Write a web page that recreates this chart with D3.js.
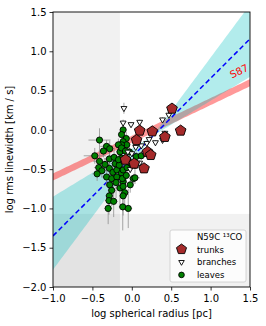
<!DOCTYPE html>
<html><head><meta charset="utf-8">
<script src="https://cdn.jsdelivr.net/npm/d3@7"></script>
<style>body{margin:0;background:#fff}svg{display:block;font-family:"DejaVu Sans",sans-serif}</style>
</head><body><svg id="c" width="266" height="326"></svg>
<script>
// ---- data ----
const xTicks = [-1.0, -0.5, 0.0, 0.5, 1.0, 1.5];
const yTicks = [-2.0, -1.5, -1.0, -0.5, 0.0, 0.5, 1.0, 1.5];
const resolutionLimitX = -0.15;   // log radius below which shaded
const sensitivityLimitY = -1.07;  // log linewidth below which shaded
// fit: log sigma = slope * log R + intercept
const fitSlope = 1.003, fitIntercept = -0.347;
const fitBandSlopes = [0.61, 1.35];
const fitBandIntercepts = [-0.24, -0.43];
// Solomon et al. 1987 relation (band)
const s87Slope = 0.48;
const s87Intercepts = [-0.165, -0.075];

const trunkX = [0.51, 0.62, 0.42, 0.26, 0.10, 0.06, 0.20, 0.24, -0.08, 0.03, 0.155];
const trunkY = [0.27, -0.01, -0.09, -0.02, -0.01, -0.13, -0.28, -0.32, -0.38, -0.43, -0.49];

const branchX = [-0.10, -0.11, -0.01, 0.10, 0.39, 0.47, 0.42, 0.39, 0.30, 0.19, 0.12, 0.05, 0.00, -0.05, 0.10, 0.16, -0.02, 0.22];
const branchY = [0.275, 0.09, 0.07, 0.10, 0.13, 0.19, -0.04, -0.13, -0.16, -0.17, -0.20, -0.22, -0.30, -0.28, -0.42, -0.30, -0.50, -0.12];
const branchXErr = [0.02, 0.03, 0.03, 0.03, 0.03, 0.03, 0.03, 0.03, 0.03, 0.03, 0.03, 0.03, 0.03, 0.03, 0.03, 0.03, 0.03, 0.03];
const branchYErr = [0.07, 0.04, 0.03, 0.03, 0.03, 0.03, 0.03, 0.03, 0.03, 0.03, 0.03, 0.03, 0.04, 0.04, 0.04, 0.03, 0.05, 0.03];

const leafX = [-0.41, -0.32, -0.28, -0.47, -0.41, -0.42, -0.38, -0.44, -0.285, -0.225, -0.21, -0.285, -0.24, -0.19, -0.16, -0.13, -0.15, -0.32, -0.255, -0.19,
  -0.13, -0.28, -0.20, -0.255, -0.15, -0.11, -0.285, -0.29, -0.23, -0.30, -0.115, -0.045, -0.11, -0.13, -0.07, -0.11, -0.065, -0.13, -0.17, -0.13,
  -0.03, -0.08, 0.057, 0.12, -0.11, -0.06, -0.12, 0.02, -0.11, -0.09, -0.11, 0.04, 0.04, -0.05, -0.02, -0.36, -0.07, -0.02, -0.34, -0.17];
const leafY = [-0.13, -0.21, -0.24, -0.33, -0.40, -0.48, -0.52, -0.56, -0.37, -0.35, -0.43, -0.49, -0.54, -0.51, -0.45, -0.36, -0.28, -0.60, -0.62, -0.60,
  -0.55, -0.70, -0.67, -0.77, -0.74, -0.66, -0.84, -0.90, -0.91, -1.00, -0.98, -1.00, 0.00, -0.06, -0.11, -0.15, -0.19, -0.19, -0.19, -0.23,
  -0.28, -0.27, -0.34, -0.33, -0.51, -0.48, -0.62, -0.62, -0.72, -0.80, -0.84, -0.45, -0.61, -0.38, -0.42, -0.27, -0.58, -0.70, -0.44, -0.38];
const leafXErr = [0.14, 0.08, 0.06, 0.14, 0.08, 0.06, 0.07, 0.06, 0.07, 0.05, 0.06, 0.08, 0.05, 0.06, 0.05, 0.06, 0.05, 0.07, 0.06, 0.05,
  0.05, 0.06, 0.06, 0.05, 0.06, 0.05, 0.05, 0.05, 0.05, 0.05, 0.05, 0.05, 0.04, 0.04, 0.05, 0.05, 0.05, 0.05, 0.05, 0.06,
  0.05, 0.05, 0.05, 0.05, 0.05, 0.05, 0.05, 0.05, 0.05, 0.05, 0.05, 0.05, 0.06, 0.05, 0.04, 0.06, 0.05, 0.04, 0.06, 0.05];
const leafYErr = [0.15, 0.08, 0.10, 0.10, 0.12, 0.10, 0.08, 0.09, 0.10, 0.12, 0.10, 0.12, 0.10, 0.15, 0.10, 0.12, 0.10, 0.12, 0.12, 0.15,
  0.12, 0.15, 0.20, 0.20, 0.22, 0.15, 0.20, 0.18, 0.20, 0.20, 0.30, 0.25, 0.08, 0.06, 0.08, 0.06, 0.08, 0.07, 0.08, 0.08,
  0.08, 0.07, 0.06, 0.05, 0.10, 0.08, 0.12, 0.06, 0.10, 0.15, 0.25, 0.08, 0.08, 0.08, 0.07, 0.08, 0.10, 0.10, 0.08, 0.10];

const legendLabels = ["N59C \u00b9\u00b3CO", "trunks", "branches", "leaves"];

// ---- drawing ----
const svg = d3.select("#c");
const x = d3.scaleLinear().domain([-1, 1.5]).range([53, 250]);
const y = d3.scaleLinear().domain([-2, 1.5]).range([287, 12]);
const fmt = d => d.toFixed(1).replace("-", "\u2212");

svg.append("clipPath").attr("id", "clip").append("rect")
  .attr("x", x(-1)).attr("y", y(1.5)).attr("width", x(1.5) - x(-1)).attr("height", y(-2) - y(1.5));
const g = svg.append("g").attr("clip-path", "url(#clip)");

// shaded limits
g.append("rect").attr("x", x(-1)).attr("y", y(1.5)).attr("width", x(resolutionLimitX) - x(-1)).attr("height", y(-2) - y(1.5))
  .attr("fill", "#000").attr("fill-opacity", 0.055);
g.append("rect").attr("x", x(-1)).attr("y", y(sensitivityLimitY)).attr("width", x(1.5) - x(-1)).attr("height", y(-2) - y(sensitivityLimitY))
  .attr("fill", "#000").attr("fill-opacity", 0.055);

const xs = d3.range(-1, 1.5001, 0.025);
// S87 band
g.append("path").datum(xs).attr("fill", "red").attr("fill-opacity", 0.4)
  .attr("d", d3.area().x(d => x(d)).y0(d => y(s87Slope * d + s87Intercepts[0])).y1(d => y(s87Slope * d + s87Intercepts[1])));
// fit band
const bandLine = (d, i) => fitBandSlopes[i] * d + fitBandIntercepts[i];
g.append("path").datum(xs).attr("fill", "#00bfbf").attr("fill-opacity", 0.3)
  .attr("d", d3.area().x(d => x(d))
    .y0(d => y(Math.min(bandLine(d, 0), bandLine(d, 1))))
    .y1(d => y(Math.max(bandLine(d, 0), bandLine(d, 1)))));
// fit line
g.append("path").datum([-1, 1.5]).attr("fill", "none").attr("stroke", "blue").attr("stroke-width", 1.5)
  .attr("stroke-dasharray", "5,3")
  .attr("d", d3.line().x(d => x(d)).y(d => y(fitSlope * d + fitIntercept)));

// S87 label
const lx = 1.38, ly = s87Slope * lx + s87Intercepts[1] + 0.12;
const ang = -Math.atan(s87Slope * (y(0) - y(1)) / (x(1) - x(0))) * 180 / Math.PI;
svg.append("text").attr("transform", `translate(${x(lx)},${y(ly)}) rotate(${ang})`)
  .attr("text-anchor", "middle").attr("fill", "red").attr("font-size", 10).text("S87");

// error bars
function errbars(X, Y, XE, YE) {
  const eg = g.append("g").attr("stroke", "#8a8a8a").attr("stroke-opacity", 0.75).attr("stroke-width", 1);
  X.forEach((d, i) => {
    eg.append("line").attr("x1", x(d - XE[i])).attr("x2", x(d + XE[i])).attr("y1", y(Y[i])).attr("y2", y(Y[i]));
    eg.append("line").attr("x1", x(d)).attr("x2", x(d)).attr("y1", y(Y[i] - YE[i])).attr("y2", y(Y[i] + YE[i]));
  });
}
function polyPath(n, r, rot) {
  const pts = d3.range(n).map(k => {
    const a = (rot + k * 360 / n) * Math.PI / 180;
    return [r * Math.cos(a), r * Math.sin(a)];
  });
  return "M" + pts.map(p => p.join(",")).join("L") + "Z";
}
const pent = r => polyPath(5, r, -90);
const triDown = r => polyPath(3, r, 90);

errbars(leafX, leafY, leafXErr, leafYErr);
errbars(branchX, branchY, branchXErr, branchYErr);

g.append("g").selectAll("circle").data(leafX).join("circle")
  .attr("cx", d => x(d)).attr("cy", (d, i) => y(leafY[i])).attr("r", 3.1)
  .attr("fill", "#008000").attr("stroke", "#000").attr("stroke-width", 0.9);
g.append("g").selectAll("path").data(branchX).join("path")
  .attr("transform", (d, i) => `translate(${x(d)},${y(branchY[i])})`).attr("d", triDown(3.4))
  .attr("fill", "#fff").attr("stroke", "#000").attr("stroke-width", 0.9);
g.append("g").selectAll("path").data(trunkX).join("path")
  .attr("transform", (d, i) => `translate(${x(d)},${y(trunkY[i])})`).attr("d", pent(5.6))
  .attr("fill", "#a52a2a").attr("stroke", "#000").attr("stroke-width", 0.9);

// axes
const xAxis = svg.append("g").attr("transform", `translate(0,${y(-2)})`)
  .call(d3.axisBottom(x).tickValues(xTicks).tickFormat(fmt).tickSize(3.5).tickPadding(4).tickSizeOuter(0));
const yAxis = svg.append("g").attr("transform", `translate(${x(-1)},0)`)
  .call(d3.axisLeft(y).tickValues(yTicks).tickFormat(fmt).tickSize(3.5).tickPadding(3).tickSizeOuter(0));
[xAxis, yAxis].forEach(a => {
  a.selectAll("text").attr("font-size", 10).attr("fill", "#000").attr("font-family", "DejaVu Sans");
  a.selectAll("line").attr("stroke", "#000").attr("stroke-width", 0.8);
  a.select(".domain").remove();
});
svg.append("rect").attr("x", x(-1)).attr("y", y(1.5)).attr("width", x(1.5) - x(-1)).attr("height", y(-2) - y(1.5))
  .attr("fill", "none").attr("stroke", "#000").attr("stroke-width", 0.9);

svg.append("text").attr("x", (x(-1) + x(1.5)) / 2).attr("y", 317).attr("text-anchor", "middle")
  .attr("font-size", 10).text("log spherical radius [pc]");
svg.append("text").attr("transform", `translate(13,${(y(-2) + y(1.5)) / 2}) rotate(-90)`).attr("text-anchor", "middle")
  .attr("font-size", 10).text("log rms linewidth [km / s]");

// legend
const lg = svg.append("g");
lg.append("rect").attr("x", 170).attr("y", 230).attr("width", 76).attr("height", 52).attr("rx", 2)
  .attr("fill", "#fff").attr("fill-opacity", 0.8).attr("stroke", "#cccccc").attr("stroke-width", 0.8);
legendLabels.forEach((t, i) => {
  const cy = 236.5 + i * 12.8;
  lg.append("text").attr("x", 197).attr("y", cy + 3.2).attr("font-size", 8.5).text(t);
  if (i === 1) lg.append("path").attr("transform", `translate(181.5,${cy})`).attr("d", pent(5.3))
    .attr("fill", "#a52a2a").attr("stroke", "#000").attr("stroke-width", 0.9);
  if (i === 2) lg.append("path").attr("transform", `translate(181.5,${cy})`).attr("d", triDown(3.2))
    .attr("fill", "#fff").attr("stroke", "#000").attr("stroke-width", 0.9);
  if (i === 3) lg.append("circle").attr("cx", 181.5).attr("cy", cy).attr("r", 2.8)
    .attr("fill", "#008000").attr("stroke", "#000").attr("stroke-width", 0.9);
});
</script></body></html>
